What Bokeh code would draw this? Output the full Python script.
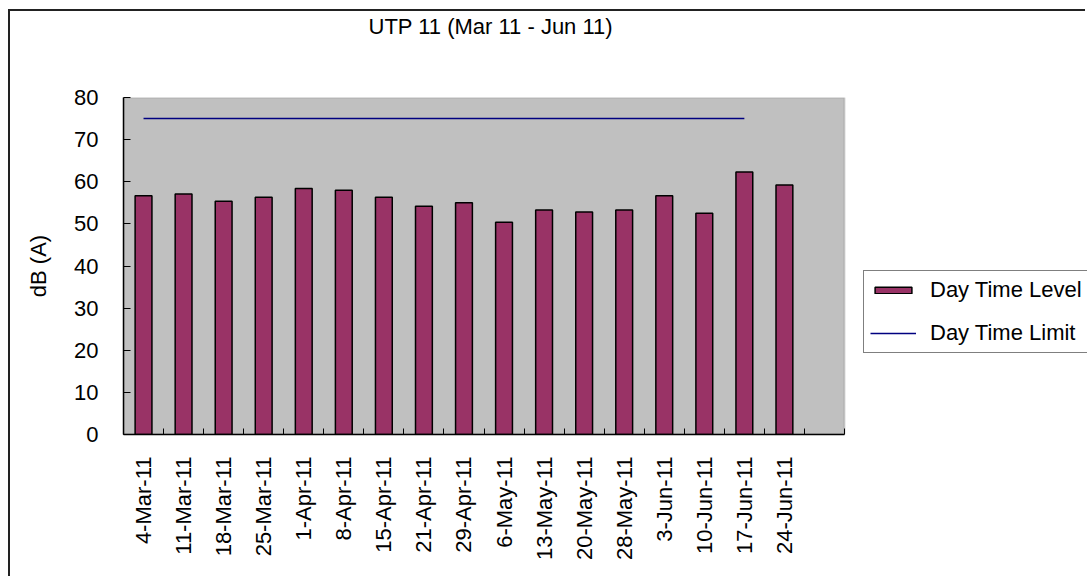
from bokeh.plotting import figure
from bokeh.models import (Range1d, FixedTicker, Legend, LegendItem, BoxAnnotation, Title)
from bokeh.embed import file_html
from bokeh.resources import INLINE
import math

# ---- data ----
dates = ["4-Mar-11", "11-Mar-11", "18-Mar-11", "25-Mar-11", "1-Apr-11", "8-Apr-11",
         "15-Apr-11", "21-Apr-11", "29-Apr-11", "6-May-11", "13-May-11", "20-May-11",
         "28-May-11", "3-Jun-11", "10-Jun-11", "17-Jun-11", "24-Jun-11"]
day_level = [56.7, 57.1, 55.4, 56.3, 58.4, 58.0, 56.3, 54.2, 55.0, 50.4, 53.3, 52.8,
             53.3, 56.7, 52.5, 62.3, 59.2]
day_limit = [75, 75, 75, 75, 75, 75, 75, 75, 75, 75, 75, 75, 75, 75, 75, 75]
n_slots = 18
y_ticks = [0, 10, 20, 30, 40, 50, 60, 70, 80]
y_max = 80
title_text = "UTP 11 (Mar 11 - Jun 11)"
y_label = "dB (A)"

FONT = "Liberation Sans"
FS = "22px"

# layout (pixels)
W, H = 1077, 567
B_LEFT, B_BOTTOM, B_TOP = 113, 144, 85
AREA_W = 721                       # width of the grey plot area
FRAME_W = W - B_LEFT               # frame runs to the right edge (room for legend)
x_end = n_slots * FRAME_W / AREA_W

centers = [i + 0.5 for i in range(len(dates))]
limit_x = [i + 0.5 for i in range(len(day_limit))]

p = figure(width=W, height=H, output_backend="svg", toolbar_location=None,
           title=title_text,
           x_range=Range1d(0, x_end), y_range=Range1d(0, y_max),
           min_border_left=B_LEFT, min_border_right=0, min_border_top=B_TOP,
           min_border_bottom=B_BOTTOM)
p.styles = {"margin-left": "8px", "margin-top": "9px",
            "border-left": "2px solid #222222", "border-top": "2px solid #222222"}

# main title (outermost) and a blank spacer title between it and the frame
p.title.align = "left"
p.title.offset = 245
p.title.standoff = 0
p.title.text_font = FONT
p.title.text_font_size = FS
p.title.text_font_style = "normal"
p.title.text_color = "black"
spacer = Title(text=" ", standoff=32, text_font=FONT, text_font_size=FS)
p.add_layout(spacer, "above")

p.background_fill_color = "white"
p.border_fill_color = "white"
p.outline_line_color = None
p.xgrid.visible = False
p.ygrid.visible = False

area = BoxAnnotation(left=0, right=n_slots, bottom=0, top=y_max,
                     fill_color="#C0C0C0", fill_alpha=1,
                     line_color="#808080", line_width=2, level="underlay")
p.add_layout(area)

bars = p.vbar(x=centers, top=day_level, width=0.42, bottom=0,
              fill_color="#993366", line_color="black", line_width=1.5)
lim = p.line(x=limit_x, y=day_limit, line_color="#000080", line_width=1.5)

# x axis
xa = p.xaxis[0]
xa.bounds = (0, n_slots)
xa.ticker = FixedTicker(ticks=centers, minor_ticks=list(range(n_slots + 1)))
xa.major_label_overrides = {c: d for c, d in zip(centers, dates)}
xa.major_label_orientation = math.pi / 2
xa.major_tick_in = 0
xa.major_tick_out = 0
xa.minor_tick_in = 6
xa.minor_tick_out = 0
xa.minor_tick_line_color = "black"
xa.axis_line_color = "black"
xa.axis_line_width = 1.5
xa.major_label_standoff = 22
xa.major_label_text_font = FONT
xa.major_label_text_font_size = FS
xa.major_label_text_color = "black"

# y axis
ya = p.yaxis[0]
ya.ticker = FixedTicker(ticks=y_ticks)
ya.major_tick_in = 7
ya.major_tick_out = 0
ya.minor_tick_in = 0
ya.minor_tick_out = 0
ya.major_tick_line_color = "black"
ya.axis_line_color = "black"
ya.axis_line_width = 1.5
ya.major_label_standoff = 25
ya.major_label_text_font = FONT
ya.major_label_text_font_size = FS
ya.major_label_text_color = "black"
ya.axis_label = y_label
ya.axis_label_text_font = FONT
ya.axis_label_text_font_size = FS
ya.axis_label_text_font_style = "normal"
ya.axis_label_text_color = "black"
ya.axis_label_standoff = 20

legend = Legend(items=[LegendItem(label="Day Time Level", renderers=[bars]),
                       LegendItem(label="Day Time Limit", renderers=[lim])],
                location=(740, 81), orientation="vertical",
                glyph_width=46, glyph_height=8, label_height=22, spacing=17,
                padding=6, margin=0, label_standoff=14,
                label_text_font=FONT, label_text_font_size=FS, label_text_color="black",
                border_line_color="black", border_line_width=1,
                background_fill_color="white", background_fill_alpha=1)
p.add_layout(legend)

open("out.html", "w").write(file_html(p, INLINE))
